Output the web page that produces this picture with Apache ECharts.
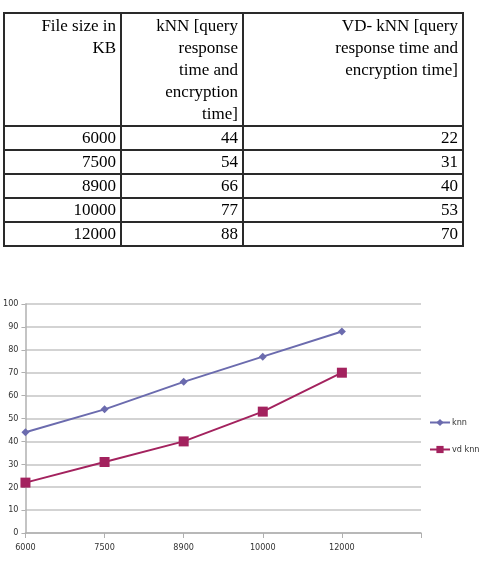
<!DOCTYPE html>
<html>
<head>
<meta charset="UTF-8">
<title>kNN vs VD-kNN</title>
<script src="https://cdn.jsdelivr.net/npm/echarts@6/dist/echarts.min.js"></script>
<style>
    body { margin: 0; background: #fff; }
    #container { position: absolute; left: 0; top: 0; width: 481px; height: 569px; }
    #tbl { position: absolute; left: 3px; top: 12px; border-collapse: collapse; z-index: 2;
           font-family: "Liberation Serif", "DejaVu Serif", serif; font-size: 17px; color: #000; }
    #tbl td { border: 2px solid #2a2a2a; text-align: right; padding: 0 4px 0 2px; line-height: 22px; }
    #tbl tr.head td { height: 110px; vertical-align: top; padding-top: 1px; }
    #tbl tr.row td { height: 22px; line-height: 22px; }
</style>
</head>
<body>
<table id="tbl">
    <tr class="head">
        <td style="width:109px">File size in<br>KB</td>
        <td style="width:114px">kNN [query<br>response<br>time and<br>encryption<br>time]</td>
        <td style="width:212px">VD- kNN [query<br>response time and<br>encryption time]</td>
    </tr>
</table>
<div id="container"></div>
<script type="text/javascript">
    var fileSizes = ['6000', '7500', '8900', '10000', '12000'];
    var knnData = [44, 54, 66, 77, 88];
    var vdKnnData = [22, 31, 40, 53, 70];
    var yTicks = [0, 10, 20, 30, 40, 50, 60, 70, 80, 90, 100];

    // table rows from the same arrays
    var tbl = document.getElementById('tbl');
    for (var i = 0; i < fileSizes.length; i++) {
        var tr = document.createElement('tr');
        tr.className = 'row';
        tr.innerHTML = '<td>' + fileSizes[i] + '</td><td>' + knnData[i] + '</td><td>' + vdKnnData[i] + '</td>';
        tbl.appendChild(tr);
    }

    var smallFont = '"Liberation Sans Narrow", "DejaVu Sans Condensed", "Liberation Sans", sans-serif';

    var myChart = echarts.init(document.getElementById('container'));
    var option = {
        animation: false,
        grid: { left: 22, right: 60, top: 304, bottom: 36 },
        legend: {
            orient: 'vertical',
            left: 424,
            top: 413,
            itemGap: 18,
            itemWidth: 20,
            itemHeight: 9,
            textStyle: { fontSize: 9, color: '#333', fontFamily: smallFont, padding: [0, 0, 0, -3] },
            data: ['knn', 'vd knn']
        },
        xAxis: {
            type: 'category',
            boundaryGap: false,
            data: fileSizes.concat(['']),
            axisLine: { lineStyle: { color: '#b0b0b0', width: 1.5 } },
            axisTick: { show: true, length: 5, lineStyle: { color: '#b0b0b0' } },
            axisLabel: { fontSize: 9, color: '#333', margin: 10, fontFamily: smallFont },
            splitLine: { show: false }
        },
        yAxis: {
            type: 'value',
            min: yTicks[0],
            max: yTicks[yTicks.length - 1],
            interval: 10,
            axisLine: { show: true, lineStyle: { color: '#b0b0b0', width: 1.5 } },
            axisTick: { show: true, length: 4, lineStyle: { color: '#b0b0b0' } },
            axisLabel: { fontSize: 9, color: '#333', margin: 7, fontFamily: smallFont },
            splitLine: { lineStyle: { color: '#c4c4c4', width: 1.5 } }
        },
        series: [
            {
                name: 'knn',
                type: 'line',
                data: knnData,
                symbol: 'diamond',
                symbolSize: 8,
                itemStyle: { color: '#6b6bae' },
                lineStyle: { width: 2, color: '#6b6bae' }
            },
            {
                name: 'vd knn',
                type: 'line',
                data: vdKnnData,
                symbol: 'rect',
                symbolSize: 10,
                itemStyle: { color: '#a3225e' },
                lineStyle: { width: 2, color: '#a3225e' }
            }
        ]
    };
    myChart.setOption(option, true);
</script>
</body>
</html>
